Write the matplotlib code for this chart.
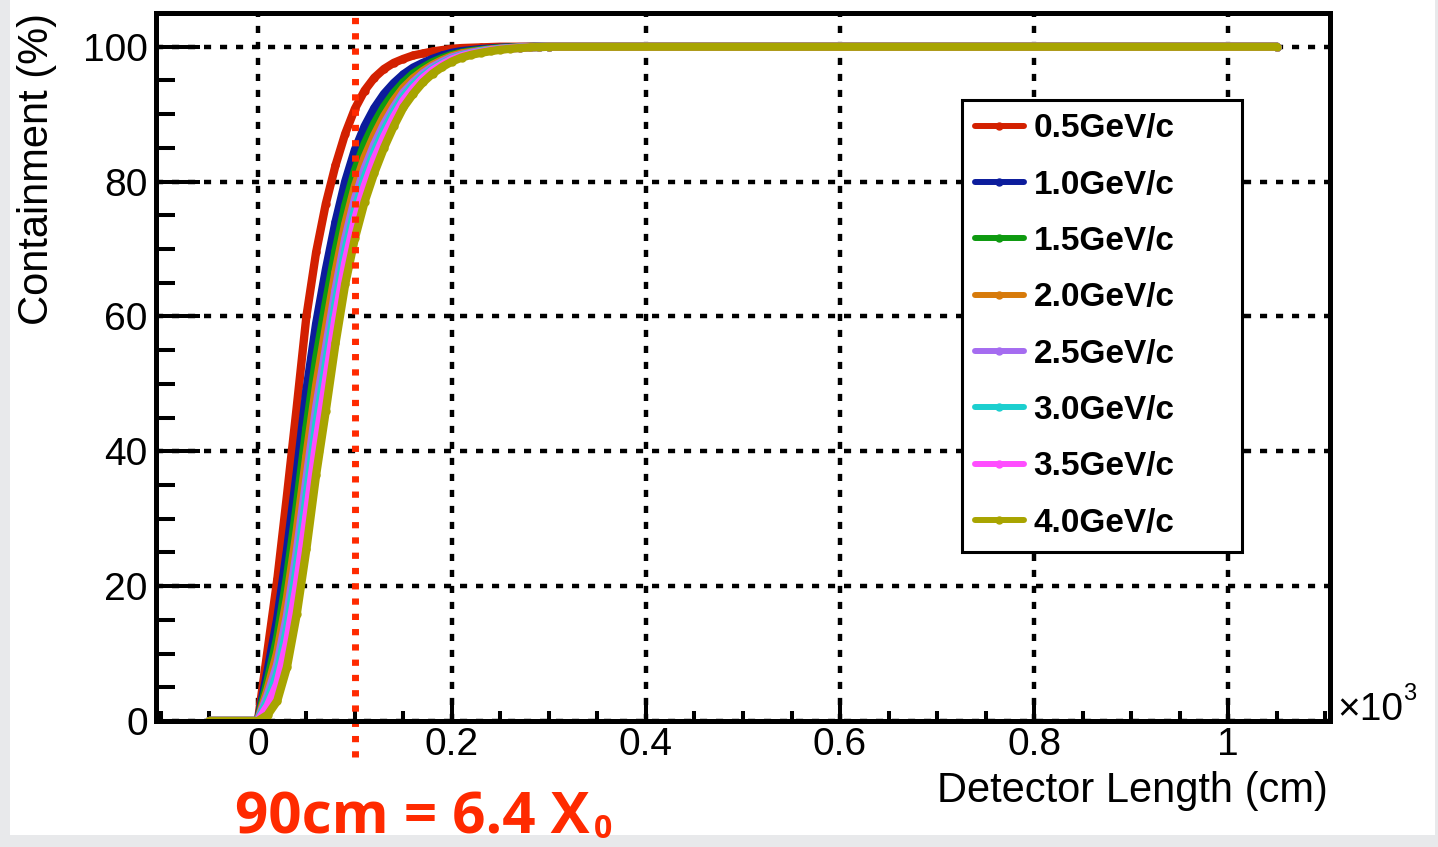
import matplotlib
matplotlib.use("Agg")
import matplotlib.pyplot as plt
from matplotlib.patches import Rectangle
from matplotlib.ticker import MultipleLocator, FixedLocator

plt.rcParams['font.family'] = ['Liberation Sans', 'DejaVu Sans']

W, H = 1438, 847

# Detector length in units of 10^3 cm
length_k = [-0.05, 0.00, 0.01, 0.02, 0.03, 0.04, 0.05, 0.06, 0.07, 0.08, 0.09,
            0.10, 0.11, 0.12, 0.13, 0.14, 0.15, 0.16, 0.17, 0.18, 0.19, 0.20,
            0.21, 0.22, 0.23, 0.24, 0.25, 0.26, 0.27, 0.28, 0.29, 0.30, 1.05]

# Containment (%) for each beam momentum
cont_05 = [0, 0, 10.5, 21.0, 33.5, 46.5, 60.0, 69.5, 76.7, 82.4, 87.1, 90.8,
           93.5, 95.4, 96.7, 97.6, 98.2, 98.7, 99.0, 99.3, 99.5, 99.7,
           99.8, 99.85, 99.9, 99.95, 100, 100, 100, 100, 100, 100, 100]
cont_10 = [0, 0, 7.4, 15.2, 25.3, 36.7, 49.0, 58.9, 66.9, 74.0, 80.0, 84.7,
           88.2, 90.9, 93.0, 94.6, 95.9, 96.9, 97.6, 98.2, 98.7, 99.1,
           99.35, 99.5, 99.65, 99.75, 99.85, 99.9, 99.95, 99.97, 100, 100, 100]
cont_15 = [0, 0, 5.9, 12.4, 21.3, 31.8, 43.4, 53.7, 62.0, 69.7, 76.4, 81.6,
           85.6, 88.6, 91.1, 93.1, 94.7, 96.0, 96.9, 97.7, 98.3, 98.8,
           99.1, 99.35, 99.5, 99.65, 99.8, 99.85, 99.9, 99.95, 99.98, 100, 100]
cont_20 = [0, 0, 4.7, 10.2, 18.2, 28.1, 39.3, 49.7, 58.3, 66.6, 73.7, 79.3,
           83.6, 86.9, 89.7, 92.0, 93.9, 95.3, 96.4, 97.3, 98.0, 98.6,
           99.0, 99.2, 99.4, 99.6, 99.7, 99.8, 99.9, 99.94, 99.97, 100, 100]
cont_25 = [0, 0, 3.8, 8.4, 15.6, 25.0, 35.8, 46.4, 55.2, 63.9, 71.5, 77.4,
           81.9, 85.5, 88.5, 91.0, 93.2, 94.7, 96.0, 97.0, 97.75, 98.4,
           98.8, 99.1, 99.35, 99.5, 99.7, 99.8, 99.86, 99.93, 99.97, 100, 100]
cont_30 = [0, 0, 3.0, 7.0, 13.6, 22.6, 33.1, 43.8, 52.8, 61.8, 69.7, 75.8,
           80.6, 84.4, 87.6, 90.3, 92.6, 94.3, 95.6, 96.7, 97.5, 98.2,
           98.7, 99.0, 99.3, 99.5, 99.65, 99.77, 99.85, 99.92, 99.96, 100, 100]
cont_35 = [0, 0, 2.2, 5.5, 11.6, 20.1, 30.3, 41.1, 50.3, 59.7, 67.9, 74.3,
           79.3, 83.3, 86.6, 89.5, 92.0, 93.8, 95.3, 96.5, 97.35, 98.1,
           98.6, 98.95, 99.2, 99.45, 99.6, 99.74, 99.83, 99.91, 99.96, 100, 100]
cont_40 = [0, 0, 0.9, 3.0, 8.0, 15.8, 25.5, 36.5, 46.0, 56.0, 64.8, 71.6,
           77.0, 81.3, 85.0, 88.2, 91.0, 93.0, 94.7, 96.0, 97.0, 97.8,
           98.4, 98.8, 99.1, 99.35, 99.55, 99.7, 99.8, 99.9, 99.95, 100, 100]

labels = ["0.5GeV/c", "1.0GeV/c", "1.5GeV/c", "2.0GeV/c",
          "2.5GeV/c", "3.0GeV/c", "3.5GeV/c", "4.0GeV/c"]
series = [cont_05, cont_10, cont_15, cont_20, cont_25, cont_30, cont_35, cont_40]
colors = ['#d32000', '#0c1c9c', '#0e9a10', '#d77a0a',
          '#a56cf0', '#1ccfcf', '#ff4dff', '#a8a400']

x_ticks = [0, 0.2, 0.4, 0.6, 0.8, 1.0]
x_tick_labels = ["0", "0.2", "0.4", "0.6", "0.8", "1"]
y_ticks = [0, 20, 40, 60, 80, 100]

marker_length = 0.1  # 10^3 cm

fig = plt.figure(figsize=(W / 100, H / 100), dpi=100)
fig.patch.set_facecolor('#e8e9eb')
fig.add_artist(Rectangle((10 / W, 1 - 835 / H), (1435 - 10) / W, 835 / H,
                         transform=fig.transFigure, facecolor='white',
                         edgecolor='none', zorder=0))

ax = fig.add_axes([156 / W, 1 - 721 / H, (1330 - 156) / W, (721 - 13) / H])
ax.set_xlim(-0.105, 1.105)
ax.set_ylim(0, 105)

for y, c, lab in zip(series, colors, labels):
    ax.plot(length_k, y, color=c, lw=6, marker='o', markersize=5,
            solid_capstyle='round', label=lab, zorder=3)

# dotted marker line, running past the frame
ax.plot([marker_length, marker_length], [-5.4, 105], color='#ff2a00', lw=5,
        linestyle=(0, (0.9, 1.3)), clip_on=False, zorder=5)

# axes style
for s in ax.spines.values():
    s.set_linewidth(3.6)
    s.set_zorder(6)

ax.xaxis.set_major_locator(FixedLocator(x_ticks))
ax.set_xticklabels(x_tick_labels)
ax.xaxis.set_minor_locator(MultipleLocator(0.05))
ax.yaxis.set_major_locator(FixedLocator(y_ticks))
ax.yaxis.set_minor_locator(MultipleLocator(5))

ax.tick_params(axis='both', which='both', direction='in', width=2.9,
               top=False, right=False, labelsize=28, zorder=6)
ax.tick_params(axis='x', which='major', length=15, pad=4)
ax.tick_params(axis='x', which='minor', length=7)
ax.tick_params(axis='y', which='major', length=32, pad=6)
ax.tick_params(axis='y', which='minor', length=14)

ax.grid(True, which='major', color='black', lw=3.2,
        linestyle=(0, (1.6, 2.0)))
ax.set_axisbelow(True)

leg = ax.legend(loc='upper left', bbox_to_anchor=(0.6865, 0.2486, 0.2385, 0.6285),
                mode='expand', borderaxespad=0, fancybox=False, framealpha=1,
                edgecolor='black', prop={'size': 24, 'weight': 'bold'},
                handlelength=1.45, handletextpad=0.3, labelspacing=0.76,
                borderpad=0.4, numpoints=1)
leg.get_frame().set_linewidth(2.2)
leg.set_zorder(7)
for ln in leg.get_lines():
    ln.set_linewidth(4.3)

# axis titles
fig.text(37 / W, 1 - 13 / H, "Containment (%)", rotation=90, ha='center',
         va='top', fontsize=30)
fig.text(1328 / W, 1 - 802 / H, "Detector Length (cm)", ha='right',
         va='baseline', fontsize=30)
fig.text(1337 / W, 1 - 720 / H, "×10", ha='left', va='baseline', fontsize=28)
fig.text(1403 / W, 1 - 700 / H, "3", ha='left', va='baseline', fontsize=17)

# annotation below the axis
ann = fig.text(235 / W, 1 - 833 / H, "90cm = 6.4 X", ha='left', va='baseline',
               fontsize=42, fontweight='bold', color='#ff2a00',
               family=['Open Sans', 'DejaVu Sans'])
fig.canvas.draw()
bb = ann.get_window_extent()
fig.text((bb.x1 + 4) / W, 1 - 838 / H, "0", ha='left', va='baseline',
         fontsize=23, fontweight='bold', color='#ff2a00',
         family=['Open Sans', 'DejaVu Sans'])

fig.savefig("out.png", dpi=100, facecolor=fig.get_facecolor())
